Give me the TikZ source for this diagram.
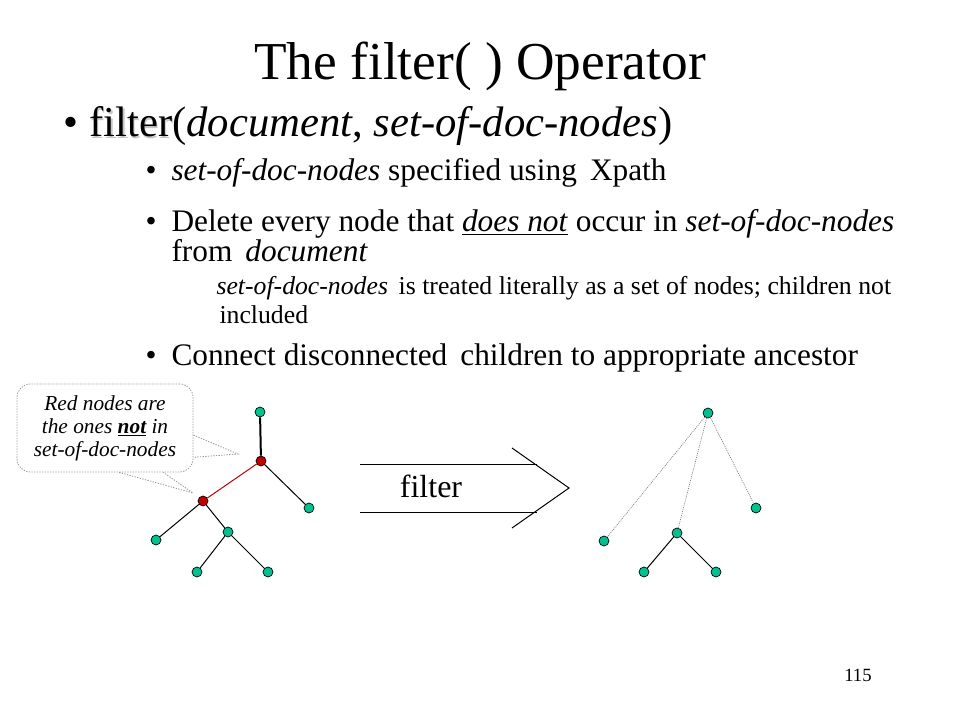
\documentclass[tikz,border=0pt]{standalone}
\usepackage{fontspec}
\setmainfont{Liberation Serif}
\usetikzlibrary{calc}
\definecolor{nodeteal}{RGB}{0,192,144}
\definecolor{nodered}{RGB}{192,0,0}

\tikzset{every picture/.style={line width=0.75pt}}
\tikzset{
  tnode/.style={circle,draw=black,line width=0.5pt,fill=nodeteal,minimum size=7.5pt,inner sep=0pt},
  rnode/.style={circle,draw=black,line width=0.5pt,fill=nodered,minimum size=7.5pt,inner sep=0pt},
  dotline/.style={draw=gray,line width=0.5pt,dash pattern=on 0.75pt off 0.75pt},
  calloutline/.style={draw=gray!80,line width=0.6pt,dash pattern=on 1pt off 1pt}
}

\begin{document}
\begin{tikzpicture}[x=0.75pt,y=0.75pt,yscale=-1,xscale=1]
\fill[white] (0,0) rectangle (960,720);
\useasboundingbox (0,0) rectangle (960,720);

% Text Node
\draw (480,80) node (title) [anchor=base][inner sep=0.75pt] {\fontsize{40}{46}\selectfont The filter( ) Operator};
% Text Node
\draw (62,137) node (b1) [anchor=base west][inner sep=0.75pt] {\fontsize{32}{36}\selectfont \textbullet};
% Text Node
\draw (88,137) node (l1) [anchor=base west][inner sep=0.75pt] {\fontsize{32}{36}\selectfont \makebox[0pt][l]{\raisebox{-1.1pt}{\hspace{1.1pt}\color{gray!45}filter}}filter(\textit{document}, \textit{set-of-doc-nodes})};
% Text Node
\draw (144,181) node (b2) [anchor=base west][inner sep=0.75pt] {\fontsize{23.5}{28}\selectfont \textbullet};
\draw (170,181) node (l2) [anchor=base west][inner sep=0.75pt] {\fontsize{23.5}{28}\selectfont \textit{set-of-doc-nodes} specified using\, Xpath};
% Text Node
\draw (144,232) node (b3) [anchor=base west][inner sep=0.75pt] {\fontsize{23.5}{28}\selectfont \textbullet};
\draw (170,232) node (l3) [anchor=base west][inner sep=0.75pt] {\fontsize{23.5}{28}\selectfont Delete every node that \underline{\textit{does not}} occur in \textit{set-of-doc-nodes}};
\draw (170,262) node (l4) [anchor=base west][inner sep=0.75pt] {\fontsize{23.5}{28}\selectfont from\, \textit{document}};
% Text Node
\draw (215,295) node (l5) [anchor=base west][inner sep=0.75pt] {\fontsize{19.3}{22}\selectfont \textit{set-of-doc-nodes}\, is treated literally as a set of nodes; children not};
\draw (218,323) node (l6) [anchor=base west][inner sep=0.75pt] {\fontsize{19.3}{22}\selectfont included};
% Text Node
\draw (144,365) node (b4) [anchor=base west][inner sep=0.75pt] {\fontsize{23.5}{28}\selectfont \textbullet};
\draw (170,365) node (l7) [anchor=base west][inner sep=0.75pt] {\fontsize{23.5}{28}\selectfont Connect disconnected\, children to appropriate ancestor};

% Callout
\draw (105,428) node (callout) [calloutline,rounded corners=10pt,minimum width=132pt,minimum height=66pt,align=center,inner sep=0pt,font=\fontsize{16}{17.25}\selectfont\itshape] {Red nodes are\\ the ones \underline{\textbf{not}} in\\ set-of-doc-nodes};
\coordinate (tipa) at (238,454);
\coordinate (tipb) at (193,493);
\draw [calloutline] ($(callout.north east)!0.58!(callout.south east)$) -- (tipa) -- ($(callout.north east)!0.83!(callout.south east)$);
\draw [calloutline] ($(callout.south west)!0.58!(callout.south east)$) -- (tipb) -- ($(callout.south west)!0.83!(callout.south east)$);

% Shape: Circle (left tree)
\draw (260,412) node (r1) [tnode] {};
\draw (261,461) node (a1) [rnode] {};
\draw (309,508) node (e1) [tnode] {};
\draw (203,501) node (b1n) [rnode] {};
\draw (156,540) node (f1) [tnode] {};
\draw (228,532) node (c1) [tnode] {};
\draw (197,572) node (g1) [tnode] {};
\draw (268,572) node (h1) [tnode] {};

%Straight Lines
\draw [line width=1.5pt] (r1) -- (a1);
\draw [color=nodered] (a1) -- (b1n);
\draw (a1) -- (e1);
\draw (b1n) -- (f1);
\draw (b1n) -- (c1);
\draw (c1) -- (g1);
\draw (c1) -- (h1);

% filter arrow
\draw (360,464) -- (537,464);
\draw (360,512) -- (537,512);
\draw (512,448) -- (569,488) -- (512,528);
% Text Node
\draw (431,497) node (ftext) [anchor=base][inner sep=0.75pt] {\fontsize{24}{28}\selectfont filter};

% Shape: Circle (right tree)
\draw (708,413) node (r2) [tnode] {};
\draw (604,541) node (f2) [tnode] {};
\draw (677,533) node (c2) [tnode] {};
\draw (756,508) node (e2) [tnode] {};
\draw (644,572) node (g2) [tnode] {};
\draw (716,572) node (h2) [tnode] {};

%Straight Lines
\draw [dotline] (r2) -- (f2);
\draw [dotline] (r2) -- (c2);
\draw [dotline] (r2) -- (e2);
\draw (c2) -- (g2);
\draw (c2) -- (h2);

% Text Node
\draw (858,681) node (pnum) [anchor=base][inner sep=0.75pt] {\fontsize{14}{16}\selectfont 115};

\end{tikzpicture}
\end{document}
